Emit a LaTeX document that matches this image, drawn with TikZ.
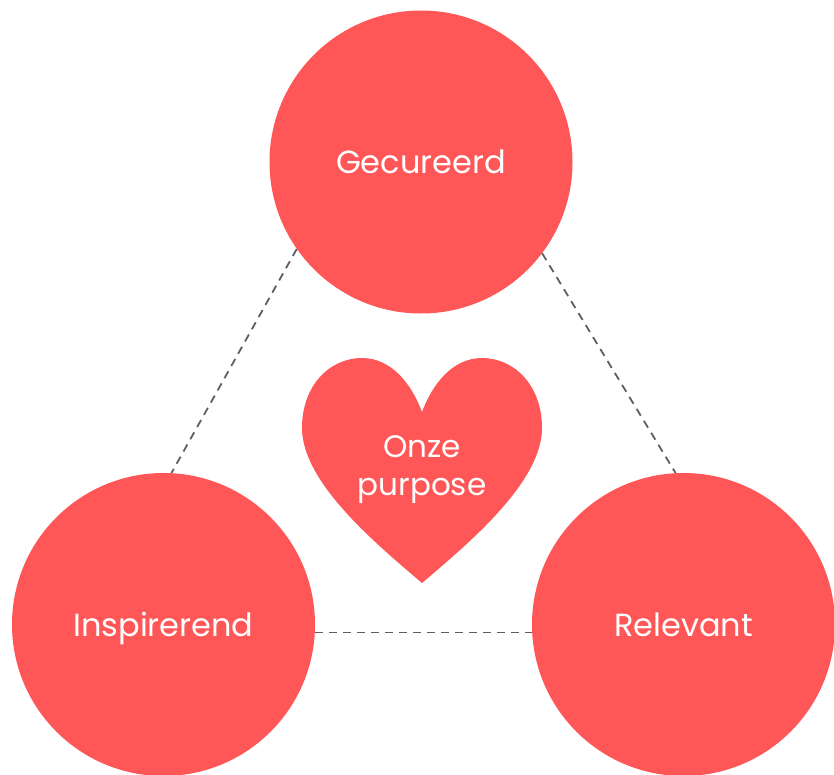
\documentclass[tikz,border=0pt]{standalone}
\usepackage{fontspec}
\setmainfont{Poppins}
\definecolor{heartred}{HTML}{FF5757}
\definecolor{linegray}{HTML}{5F5F5F}
\begin{document}
\begin{tikzpicture}[x=1bp,y=-1bp,
  bubble/.style={circle, fill=heartred, draw=none, minimum size=303bp, inner sep=0pt,
    text=white, font=\fontsize{32bp}{38bp}\selectfont, text height=23bp, text depth=0bp},
  link/.style={draw=linegray, line width=1.8bp, dash pattern=on 8bp off 6bp},
  heartlabel/.style={text=white, align=center, font=\fontsize{31bp}{38bp}\selectfont, inner sep=0pt}]
\useasboundingbox (0,0) rectangle (834,775);
\node[bubble] (top) at (421,162) {Gecureerd};
\node[bubble] (left) at (163.5,624.5) {Inspirerend};
\node[bubble] (right) at (683.5,624.5) {Relevant};
\fill[heartred] (422,583) .. controls (375,543) and (302,482) .. (302,428)
  .. controls (302,385) and (330,358) .. (362,358)
  .. controls (392,358) and (412,385) .. (422,412)
  .. controls (432,385) and (452,358) .. (482,358)
  .. controls (514,358) and (542,385) .. (542,428)
  .. controls (542,482) and (469,543) .. (422,583) -- cycle;
\node[heartlabel, anchor=base] (purpose) at (422,495) {Onze\\purpose};
\draw[link] (top.215.3) -- (left.87.2);
\draw[link] (top.323.9) -- (right.93.9);
\draw[link] (left.-3.2) -- (right.183.2);
\end{tikzpicture}
\end{document}
